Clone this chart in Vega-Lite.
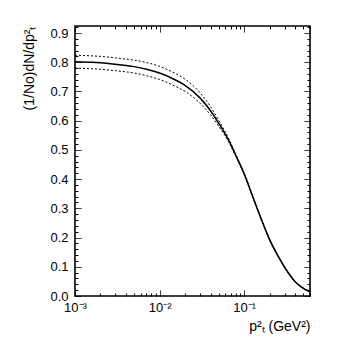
{
  "$schema": "https://vega.github.io/schema/vega-lite/v6.json",
  "width": 235,
  "height": 270,
  "autosize": {"type": "none"},
  "padding": {"left": 75, "top": 26, "right": 35, "bottom": 42},
  "background": "white",
  "config": {
    "view": {"stroke": "black", "strokeWidth": 1.6},
    "font": "Liberation Sans",
    "axis": {
      "domain": false,
      "grid": false,
      "tickColor": "black",
      "tickWidth": 1,
      "labelColor": "black",
      "titleColor": "black",
      "labelFont": "Liberation Sans",
      "titleFont": "Liberation Sans",
      "labelFontSize": 13,
      "titleFontSize": 14,
      "titleFontWeight": "normal",
      "labelOverlap": false,
      "labelFlush": false
    }
  },
  "data": {
    "values": [
      {"x": 0.001, "y": 0.802, "s": "c"}, {"x": 0.0015, "y": 0.800, "s": "c"}, {"x": 0.002, "y": 0.798, "s": "c"},
      {"x": 0.003, "y": 0.793, "s": "c"}, {"x": 0.005, "y": 0.785, "s": "c"}, {"x": 0.007, "y": 0.776, "s": "c"},
      {"x": 0.01, "y": 0.763, "s": "c"}, {"x": 0.015, "y": 0.741, "s": "c"}, {"x": 0.02, "y": 0.721, "s": "c"},
      {"x": 0.03, "y": 0.678, "s": "c"}, {"x": 0.04, "y": 0.634, "s": "c"}, {"x": 0.05, "y": 0.591, "s": "c"},
      {"x": 0.065, "y": 0.535, "s": "c"}, {"x": 0.08, "y": 0.480, "s": "c"}, {"x": 0.1, "y": 0.418, "s": "c"},
      {"x": 0.13, "y": 0.330, "s": "c"}, {"x": 0.16, "y": 0.262, "s": "c"}, {"x": 0.2, "y": 0.193, "s": "c"},
      {"x": 0.25, "y": 0.138, "s": "c"}, {"x": 0.3, "y": 0.099, "s": "c"}, {"x": 0.35, "y": 0.070, "s": "c"},
      {"x": 0.4, "y": 0.049, "s": "c"}, {"x": 0.5, "y": 0.0265, "s": "c"}, {"x": 0.6, "y": 0.0147, "s": "c"},

      {"x": 0.001, "y": 0.824, "s": "u"}, {"x": 0.0015, "y": 0.822, "s": "u"}, {"x": 0.002, "y": 0.820, "s": "u"},
      {"x": 0.003, "y": 0.815, "s": "u"}, {"x": 0.005, "y": 0.807, "s": "u"}, {"x": 0.007, "y": 0.799, "s": "u"},
      {"x": 0.01, "y": 0.786, "s": "u"}, {"x": 0.015, "y": 0.763, "s": "u"}, {"x": 0.02, "y": 0.742, "s": "u"},
      {"x": 0.03, "y": 0.696, "s": "u"}, {"x": 0.04, "y": 0.648, "s": "u"}, {"x": 0.05, "y": 0.601, "s": "u"},
      {"x": 0.065, "y": 0.541, "s": "u"}, {"x": 0.08, "y": 0.483, "s": "u"}, {"x": 0.1, "y": 0.420, "s": "u"},
      {"x": 0.13, "y": 0.332, "s": "u"}, {"x": 0.16, "y": 0.264, "s": "u"}, {"x": 0.2, "y": 0.195, "s": "u"},
      {"x": 0.25, "y": 0.140, "s": "u"}, {"x": 0.3, "y": 0.101, "s": "u"}, {"x": 0.35, "y": 0.072, "s": "u"},
      {"x": 0.4, "y": 0.0505, "s": "u"}, {"x": 0.5, "y": 0.028, "s": "u"}, {"x": 0.6, "y": 0.016, "s": "u"},

      {"x": 0.001, "y": 0.780, "s": "l"}, {"x": 0.0015, "y": 0.778, "s": "l"}, {"x": 0.002, "y": 0.776, "s": "l"},
      {"x": 0.003, "y": 0.771, "s": "l"}, {"x": 0.005, "y": 0.763, "s": "l"}, {"x": 0.007, "y": 0.754, "s": "l"},
      {"x": 0.01, "y": 0.741, "s": "l"}, {"x": 0.015, "y": 0.719, "s": "l"}, {"x": 0.02, "y": 0.700, "s": "l"},
      {"x": 0.03, "y": 0.660, "s": "l"}, {"x": 0.04, "y": 0.620, "s": "l"}, {"x": 0.05, "y": 0.581, "s": "l"},
      {"x": 0.065, "y": 0.529, "s": "l"}, {"x": 0.08, "y": 0.477, "s": "l"}, {"x": 0.1, "y": 0.416, "s": "l"},
      {"x": 0.13, "y": 0.328, "s": "l"}, {"x": 0.16, "y": 0.260, "s": "l"}, {"x": 0.2, "y": 0.191, "s": "l"},
      {"x": 0.25, "y": 0.136, "s": "l"}, {"x": 0.3, "y": 0.097, "s": "l"}, {"x": 0.35, "y": 0.068, "s": "l"},
      {"x": 0.4, "y": 0.0475, "s": "l"}, {"x": 0.5, "y": 0.025, "s": "l"}, {"x": 0.6, "y": 0.0134, "s": "l"}
    ]
  },
  "resolve": {"axis": {"x": "independent", "y": "independent"}},
  "layer": [
    {
      "transform": [{"filter": "datum.s == 'c'"}],
      "mark": {"type": "line", "color": "black", "strokeWidth": 1.5, "interpolate": "monotone", "clip": true},
      "encoding": {
        "x": {
          "field": "x", "type": "quantitative",
          "scale": {"type": "log", "domain": [0.001, 0.6], "nice": false},
          "axis": {
            "orient": "bottom",
            "values": [0.001, 0.002, 0.003, 0.004, 0.005, 0.006, 0.007, 0.008, 0.009, 0.01, 0.02, 0.03, 0.04, 0.05, 0.06, 0.07, 0.08, 0.09, 0.1, 0.2, 0.3, 0.4, 0.5, 0.6],
            "labelExpr": "datum.value == 0.001 ? '10⁻³' : datum.value == 0.01 ? '10⁻²' : datum.value == 0.1 ? '10⁻¹' : ''",
            "tickSize": -6,
            "labelPadding": 11,
            "tickDash": {"condition": {"test": "datum.value == 0.001 || datum.value == 0.01 || datum.value == 0.1", "value": [1, 0]}, "value": [3, 30]},
            "title": "p²ₜ (GeV²)",
            "titleAnchor": "end",
            "titleAlign": "right",
            "titlePadding": 5
          }
        },
        "y": {
          "field": "y", "type": "quantitative",
          "scale": {"domain": [0, 0.924], "nice": false, "zero": false},
          "axis": {
            "orient": "left",
            "values": [0, 0.02, 0.04, 0.06, 0.08, 0.1, 0.12, 0.14, 0.16, 0.18, 0.2, 0.22, 0.24, 0.26, 0.28, 0.3, 0.32, 0.34, 0.36, 0.38, 0.4, 0.42, 0.44, 0.46, 0.48, 0.5, 0.52, 0.54, 0.56, 0.58, 0.6, 0.62, 0.64, 0.66, 0.68, 0.7, 0.72, 0.74, 0.76, 0.78, 0.8, 0.82, 0.84, 0.86, 0.88, 0.9, 0.92],
            "labelExpr": "abs(datum.value * 10 - round(datum.value * 10)) < 0.001 ? format(datum.value, '.1f') : ''",
            "tickSize": -6,
            "labelPadding": 13,
            "tickDash": {"condition": {"test": "abs(datum.value * 10 - round(datum.value * 10)) < 0.001", "value": [1, 0]}, "value": [3, 30]},
            "title": "(1/No)dN/dp²ₜ",
            "titleAnchor": "end",
            "titlePadding": 13
          }
        }
      }
    },
    {
      "transform": [{"filter": "datum.s != 'c'"}],
      "mark": {"type": "line", "color": "black", "strokeWidth": 1, "strokeDash": [2, 2], "interpolate": "monotone", "clip": true},
      "encoding": {
        "detail": {"field": "s", "type": "nominal"},
        "x": {
          "field": "x", "type": "quantitative",
          "scale": {"type": "log", "domain": [0.001, 0.6], "nice": false},
          "axis": {
            "orient": "top",
            "values": [0.001, 0.002, 0.003, 0.004, 0.005, 0.006, 0.007, 0.008, 0.009, 0.01, 0.02, 0.03, 0.04, 0.05, 0.06, 0.07, 0.08, 0.09, 0.1, 0.2, 0.3, 0.4, 0.5, 0.6],
            "labels": false,
            "tickSize": -6,
            "tickDash": {"condition": {"test": "datum.value == 0.001 || datum.value == 0.01 || datum.value == 0.1", "value": [1, 0]}, "value": [3, 30]},
            "title": null
          }
        },
        "y": {
          "field": "y", "type": "quantitative",
          "scale": {"domain": [0, 0.924], "nice": false, "zero": false},
          "axis": {
            "orient": "right",
            "values": [0, 0.02, 0.04, 0.06, 0.08, 0.1, 0.12, 0.14, 0.16, 0.18, 0.2, 0.22, 0.24, 0.26, 0.28, 0.3, 0.32, 0.34, 0.36, 0.38, 0.4, 0.42, 0.44, 0.46, 0.48, 0.5, 0.52, 0.54, 0.56, 0.58, 0.6, 0.62, 0.64, 0.66, 0.68, 0.7, 0.72, 0.74, 0.76, 0.78, 0.8, 0.82, 0.84, 0.86, 0.88, 0.9, 0.92],
            "labels": false,
            "tickSize": -6,
            "tickDash": {"condition": {"test": "abs(datum.value * 10 - round(datum.value * 10)) < 0.001", "value": [1, 0]}, "value": [3, 30]},
            "title": null
          }
        }
      }
    }
  ]
}
